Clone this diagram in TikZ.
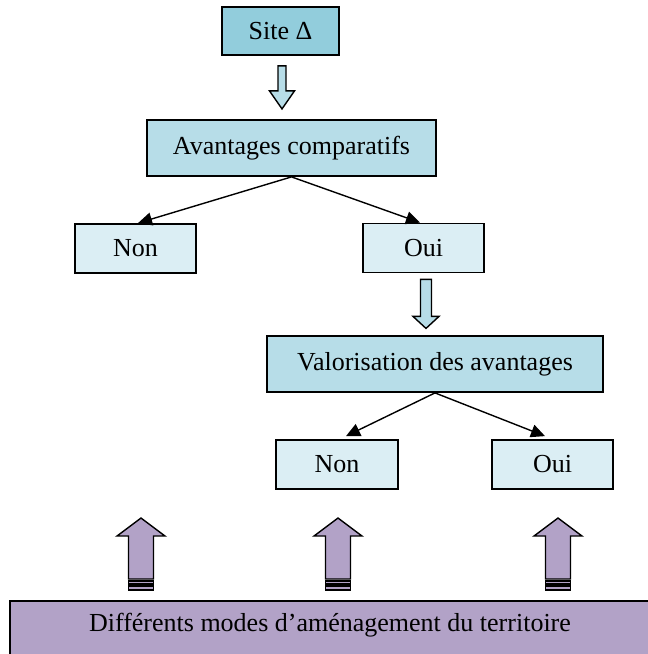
\documentclass[tikz,border=0pt]{standalone}
\usepackage{fontspec}
\setmainfont{Liberation Serif}
\usetikzlibrary{calc,arrows.meta}
\definecolor{aquaD}{HTML}{92CDDC}
\definecolor{aquaM}{HTML}{B7DDE8}
\definecolor{aquaL}{HTML}{DBEEF4}
\definecolor{lilac}{HTML}{B2A2C7}
\tikzset{
flow/.style={
x=1pt, y=-1pt,
every node/.style={font=\fontsize{26}{30}\selectfont},
box/.style={draw, line width=1.8pt, inner sep=0pt, minimum height=49pt},
link/.style={-{Triangle[length=14pt,width=13pt]}, line width=1.4pt},
},
pics/hollowdown/.style n args={5}{code={
\draw[line width=1.4pt, fill=#5] (-#1,0) -- (#1,0) -- (#1,#4) -- (#2,#4) -- (0,#3) -- (-#2,#4) -- (-#1,#4) -- cycle;}},
pics/stripedup/.style={code={
\draw[line width=1.4pt, fill=lilac] (-12.5,61) -- (-12.5,18) -- (-24,18) -- (0,0) -- (24,18) -- (12.5,18) -- (12.5,61) -- cycle;
\draw[line width=1.4pt, fill=lilac] (-12.5,63) rectangle (12.5,66);
\draw[line width=1.4pt, fill=lilac] (-12.5,68) rectangle (12.5,72);}}
}
\begin{document}
\begin{tikzpicture}[flow]
\useasboundingbox (0,0) rectangle (648,654);
\clip (0,0) rectangle (648,654);
% boxes
\node[box, fill=aquaD, minimum width=117pt, minimum height=48pt] (site) at (280.5,31) {Site Δ};
\node[box, fill=aquaM, minimum width=289pt, minimum height=56pt] (avant) at (291.5,148) {Avantages comparatifs};
\node[box, fill=aquaL, minimum width=121pt] (non1) at (135.5,248.5) {Non};
\node[box, fill=aquaL, minimum width=121pt] (oui1) at (423.5,248) {Oui};
\node[box, fill=aquaM, minimum width=336pt, minimum height=56pt] (valo) at (435,364) {Valorisation des avantages};
\node[box, fill=aquaL, minimum width=122pt] (non2) at (337,464.5) {Non};
\node[box, fill=aquaL, minimum width=121pt] (oui2) at (552.5,464.5) {Oui};
\node[box, fill=lilac, anchor=north, minimum width=640pt, text height=31pt, text depth=29pt, inner ysep=0pt, inner xsep=0pt] (terr) at (330,600) {Différents modes d’aménagement du territoire};
%
\pic at ($(site.south)+(1.5,10)$) {hollowdown={4}{12.5}{43}{25}{aquaM}};
\pic at ($(oui1.south)+(2.5,6)$) {hollowdown={5.5}{13}{49}{37}{aquaM}};
\path[link] (avant.south) edge ($(non1.north)+(2.5,0)$);
\path[link] (avant.south) edge ($(oui1.north)+(-3.5,0)$);
\path[link] (valo.south) edge ($(non2.north)+(9,-3)$);
\path[link] (valo.south) edge ($(oui2.north)+(-7.5,-3)$);
%
\pic at ($(non1.south |- terr.north)+(5.5,-82)$) {stripedup};
\pic at ($(non2.south |- terr.north)+(1,-82)$) {stripedup};
\pic at ($(oui2.south |- terr.north)+(5.5,-82)$) {stripedup};
\end{tikzpicture}
\end{document}
